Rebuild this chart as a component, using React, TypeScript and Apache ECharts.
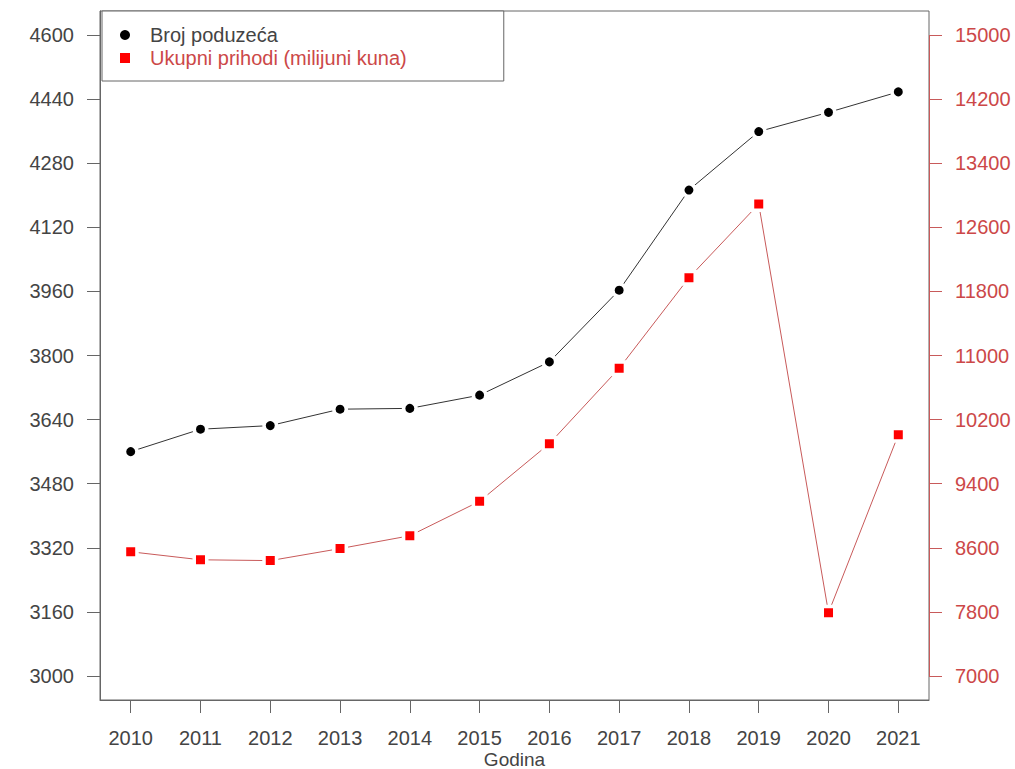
import { useEffect, useRef } from "react";
import * as echarts from "echarts";

const years = [2010, 2011, 2012, 2013, 2014, 2015, 2016, 2017, 2018, 2019, 2020, 2021];
const brojPoduzeca = [3560, 3616, 3625, 3666, 3668, 3701, 3784, 3963, 4213, 4359, 4407, 4458];
const ukupniPrihodi = [8550, 8450, 8440, 8590, 8750, 9180, 9900, 10840, 11970, 12890, 7790, 10010];
const leftTicks = [3000, 3160, 3320, 3480, 3640, 3800, 3960, 4120, 4280, 4440, 4600];
const rightTicks = [7000, 7800, 8600, 9400, 10200, 11000, 11800, 12600, 13400, 14200, 15000];

const seriesNames = ["Broj poduzeća", "Ukupni prihodi (milijuni kuna)"];

const X_MIN = 2009.56;
const X_MAX = 2021.44;
const FONT = "Liberation Sans, Arial, sans-serif";
const GRAY = "#666";
const TEXT = "#444";
const RED_TEXT = "#cc4848";
const RED_LINE = "#c85a5a";

export default function App() {
  const ref = useRef<HTMLDivElement>(null);
  useEffect(() => {
    if (!ref.current) return;
    const chart = echarts.init(ref.current, null, { renderer: "svg" });
    chart.setOption({
      animation: false,
      backgroundColor: "#fff",
      textStyle: { fontFamily: FONT },
      grid: {
        left: 100,
        right: 86,
        top: 11,
        bottom: 69,
        containLabel: false,
        outerBoundsMode: "none",
        show: true,
        borderColor: GRAY,
        borderWidth: 1,
        backgroundColor: "transparent",
      },
      legend: {
        orient: "vertical",
        left: 102,
        top: 11,
        padding: [14, 97, 13, 18],
        itemWidth: 10,
        itemHeight: 10,
        itemGap: 3,
        borderColor: GRAY,
        borderWidth: 1,
        borderRadius: 0,
        backgroundColor: "#fff",
        itemStyle: { borderWidth: 0 },
        lineStyle: { opacity: 0 },
        textStyle: { fontSize: 20, lineHeight: 20, fontFamily: FONT, padding: [0, 0, 0, 15] },
        data: [
          { name: seriesNames[0], icon: "circle", textStyle: { color: TEXT } },
          { name: seriesNames[1], icon: "rect", textStyle: { color: RED_TEXT } },
        ],
      },
      xAxis: {
        type: "value",
        min: X_MIN,
        max: X_MAX,
        name: "Godina",
        nameLocation: "middle",
        nameGap: 50,
        nameMoveOverlap: false,
        nameTextStyle: { color: TEXT, fontSize: 19, fontFamily: FONT, lineHeight: 19 },
        axisLine: { show: true, lineStyle: { color: GRAY, width: 1 } },
        axisTick: { show: true, length: 13, customValues: years, lineStyle: { color: GRAY } },
        axisLabel: {
          customValues: years,
          margin: 28,
          color: TEXT,
          fontSize: 20,
          fontFamily: FONT,
          formatter: (v: number) => String(v),
        },
        splitLine: { show: false },
      },
      yAxis: [
        {
          type: "value",
          position: "left",
          min: 2940,
          max: 4660,
          axisLine: { show: true, lineStyle: { color: GRAY, width: 1 } },
          axisTick: { show: true, length: 13, customValues: leftTicks, lineStyle: { color: GRAY } },
          axisLabel: {
            customValues: leftTicks,
            margin: 26,
            color: TEXT,
            fontSize: 20,
            fontFamily: FONT,
            formatter: (v: number) => String(v),
          },
          splitLine: { show: false },
        },
        {
          type: "value",
          position: "right",
          min: 6700,
          max: 15300,
          axisLine: { show: false },
          axisTick: { show: true, length: 13, customValues: rightTicks, lineStyle: { color: RED_LINE } },
          axisLabel: {
            customValues: rightTicks,
            margin: 26,
            color: RED_TEXT,
            fontSize: 20,
            fontFamily: FONT,
            formatter: (v: number) => String(v),
          },
          splitLine: { show: false },
        },
      ],
      series: [
        {
          name: seriesNames[0],
          type: "line",
          yAxisIndex: 0,
          data: years.map((y, i) => [y, brojPoduzeca[i]]),
          symbol: "circle",
          symbolSize: 12.5,
          itemStyle: { color: "#000", borderColor: "#fff", borderWidth: 3.5 },
          lineStyle: { color: "#333", width: 1 },
          z: 3,
        },
        {
          name: seriesNames[1],
          type: "line",
          yAxisIndex: 1,
          data: years.map((y, i) => [y, ukupniPrihodi[i]]),
          symbol: "rect",
          symbolSize: 12.5,
          itemStyle: { color: "#ff0000", borderColor: "#fff", borderWidth: 3.5 },
          lineStyle: { color: RED_LINE, width: 1 },
          z: 3,
          markLine: {
            silent: true,
            symbol: ["none", "none"],
            label: { show: false },
            lineStyle: { color: RED_LINE, width: 1, type: "solid" },
            data: [
              [
                { coord: [X_MAX, rightTicks[0]] },
                { coord: [X_MAX, rightTicks[rightTicks.length - 1]] },
              ],
            ],
          },
        },
      ],
    });
    return () => chart.dispose();
  }, []);
  return (
    <div
      ref={ref}
      style={{ position: "fixed", left: 0, top: 0, width: 1015, height: 769 }}
    />
  );
}
